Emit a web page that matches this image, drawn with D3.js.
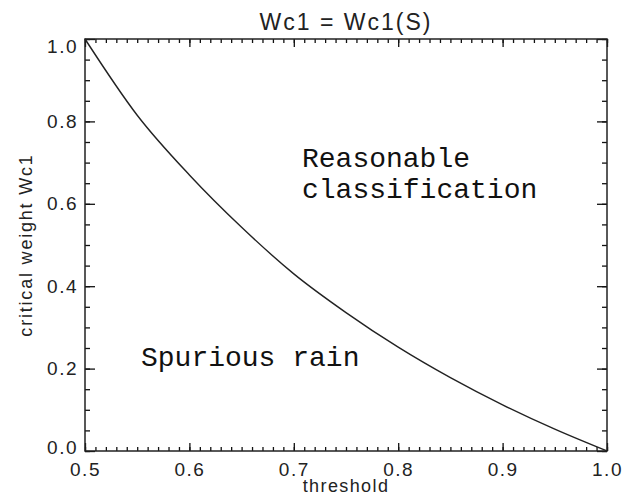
<!DOCTYPE html>
<html>
<head>
<meta charset="utf-8">
<script src="https://cdn.jsdelivr.net/npm/d3@7"></script>
<style>
  body { margin: 0; background: #fff; }
  text { font-family: "Liberation Sans", Arial, sans-serif; fill: #222; }
  .note { font-family: "Courier New", "Liberation Mono", monospace; fill: #111; }
</style>
</head>
<body>
<div id="viz"></div>
<script>
const width = 631;
const height = 499;
const margins = { left: 85, right: 24, top: 39, bottom: 48 };
const visWidth = width - margins.left - margins.right;
const visHeight = height - margins.top - margins.bottom;

// curve
const threshold = [0.50, 0.55, 0.60, 0.65, 0.70, 0.75, 0.80, 0.85, 0.90, 0.95, 1.00];
const weight    = [1.000, 0.815, 0.670, 0.543, 0.430, 0.336, 0.252, 0.178, 0.112, 0.053, 0.000];

const xMajor = [0.5, 0.6, 0.7, 0.8, 0.9, 1.0];
const xMinor = d3.range(50, 101).map(d => d / 100);
const yMajor = [0.0, 0.2, 0.4, 0.6, 0.8, 1.0];
const yMinor = d3.range(0, 21).map(d => d / 20);

const svg = d3.select('#viz')
    .append("svg")
    .attr('width', width)
    .attr('height', height)
    .append("g")
    .attr("transform", `translate(${margins.left}, ${margins.top})`);

const xScale = d3.scaleLinear().domain([0.5, 1.0]).range([0, visWidth]);
const yScale = d3.scaleLinear().domain([0, 1]).range([visHeight, 0]);

function styleAxis(g) {
    g.select(".domain").remove();
    g.selectAll(".tick line")
        .style("stroke", "#111")
        .style("stroke-width", "1.3px");
}

function labelStyle(g) {
    g.selectAll("text")
        .attr("font-size", 19)
        .attr("letter-spacing", 1.5)
        .attr("font-family", "Liberation Sans")
        .attr("fill", "#333");
}

// bottom axis: labels + major ticks, then minor ticks
svg.append("g")
    .attr("transform", `translate(0, ${visHeight})`)
    .call(d3.axisBottom(xScale).tickValues(xMajor).tickSize(-8).tickPadding(12).tickFormat(d3.format(".1f")))
    .call(styleAxis)
    .call(labelStyle);
svg.append("g")
    .attr("transform", `translate(0, ${visHeight})`)
    .call(d3.axisBottom(xScale).tickValues(xMinor).tickSize(-4).tickFormat(""))
    .call(styleAxis);

// top axis ticks
svg.append("g")
    .call(d3.axisTop(xScale).tickValues(xMajor).tickSize(-8).tickFormat(""))
    .call(styleAxis);
svg.append("g")
    .call(d3.axisTop(xScale).tickValues(xMinor).tickSize(-4).tickFormat(""))
    .call(styleAxis);

// left axis
svg.append("g")
    .call(d3.axisLeft(yScale).tickValues(yMajor).tickSize(-10).tickPadding(7).tickFormat(d3.format(".1f")))
    .call(styleAxis)
    .call(labelStyle)
    .call(g => g.selectAll(".tick text").attr("dy", d => d === 1 ? "0.7em" : d === 0 ? "0.15em" : "0.32em"));
svg.append("g")
    .call(d3.axisLeft(yScale).tickValues(yMinor).tickSize(-5).tickFormat(""))
    .call(styleAxis);

// right axis ticks
svg.append("g")
    .attr("transform", `translate(${visWidth}, 0)`)
    .call(d3.axisRight(yScale).tickValues(yMajor).tickSize(-10).tickFormat(""))
    .call(styleAxis);
svg.append("g")
    .attr("transform", `translate(${visWidth}, 0)`)
    .call(d3.axisRight(yScale).tickValues(yMinor).tickSize(-5).tickFormat(""))
    .call(styleAxis);

// frame
svg.append("rect")
    .attr("width", visWidth)
    .attr("height", visHeight)
    .attr("fill", "none")
    .attr("stroke", "#222")
    .attr("stroke-width", 1.5);

// curve
const line = d3.line()
    .x((d, i) => xScale(threshold[i]))
    .y(d => yScale(d))
    .curve(d3.curveMonotoneX);

svg.append("path")
    .datum(weight)
    .attr("fill", "none")
    .attr("stroke", "#222")
    .attr("stroke-width", 1.4)
    .attr("d", line);

// title
svg.append("text")
    .attr("x", visWidth / 2)
    .attr("y", -9)
    .attr("text-anchor", "middle")
    .attr("font-size", 23)
    .attr("letter-spacing", 2)
    .attr("fill", "#333")
    .attr("xml:space", "preserve")
    .text("Wc1 = Wc1(S)");

// axis titles
svg.append("text")
    .attr("x", visWidth / 2)
    .attr("y", visHeight + 41)
    .attr("text-anchor", "middle")
    .attr("font-size", 18)
    .attr("letter-spacing", 1.4)
    .attr("fill", "#333")
    .text("threshold");

svg.append("text")
    .attr("transform", `translate(${32 - margins.left}, ${visHeight / 2}) rotate(-90)`)
    .attr("text-anchor", "middle")
    .attr("font-size", 18)
    .attr("letter-spacing", 1.8)
    .attr("fill", "#333")
    .text("critical weight Wc1");

// annotations
svg.append("text")
    .attr("class", "note")
    .attr("x", 302 - margins.left)
    .attr("y", 167 - margins.top)
    .attr("font-size", 28)
    .text("Reasonable");
svg.append("text")
    .attr("class", "note")
    .attr("x", 302 - margins.left)
    .attr("y", 198 - margins.top)
    .attr("font-size", 28)
    .text("classification");
svg.append("text")
    .attr("class", "note")
    .attr("x", 141 - margins.left)
    .attr("y", 366 - margins.top)
    .attr("font-size", 28)
    .text("Spurious rain");
</script>
</body>
</html>
